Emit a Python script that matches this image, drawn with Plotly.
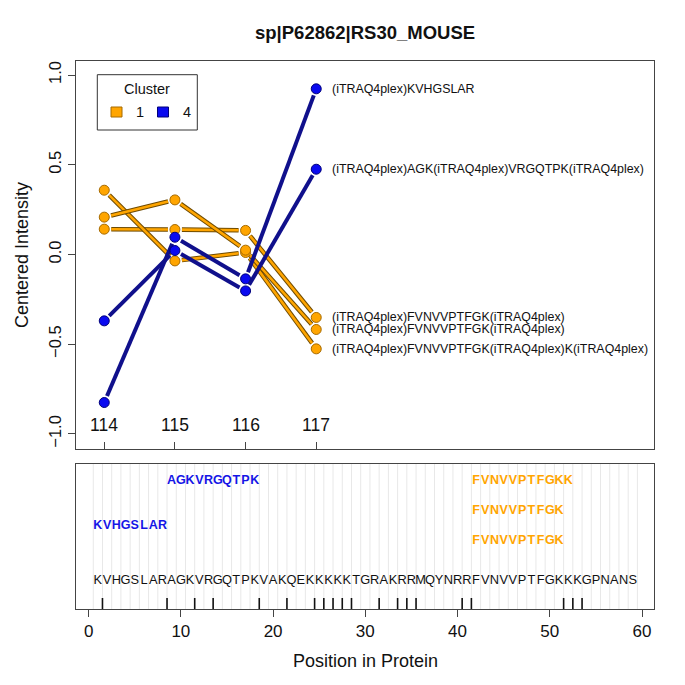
import math
import plotly.graph_objects as go

# ---------------- data ----------------
channels = ["114", "115", "116", "117"]
channel_pos = [1, 2, 3, 4]

peptide_labels = [
    "(iTRAQ4plex)FVNVVPTFGK(iTRAQ4plex)",
    "(iTRAQ4plex)FVNVVPTFGK(iTRAQ4plex)K(iTRAQ4plex)",
    "(iTRAQ4plex)FVNVVPTFGK(iTRAQ4plex)",
    "(iTRAQ4plex)KVHGSLAR",
    "(iTRAQ4plex)AGK(iTRAQ4plex)VRGQTPK(iTRAQ4plex)",
]
peptide_cluster = [1, 1, 1, 4, 4]
intensity_p1 = [0.141, 0.139, 0.134, -0.351]
intensity_p2 = [0.358, -0.036, 0.011, -0.526]
intensity_p3 = [0.208, 0.304, 0.024, -0.418]
intensity_p4 = [-0.825, 0.096, -0.136, 0.923]
intensity_p5 = [-0.370, 0.022, -0.203, 0.475]
intensities = [intensity_p1, intensity_p2, intensity_p3, intensity_p4, intensity_p5]

protein_name = "sp|P62862|RS30_MOUSE"
protein_seq = "KVHGSLARAGKVRGQTPKVAKQEKKKKKTGRAKRRMQYNRRFVNVVPTFGKKKGPNANS"

pep_seqs = ["KVHGSLAR", "AGKVRGQTPK", "FVNVVPTFGKK", "FVNVVPTFGK", "FVNVVPTFGK"]
pep_start = [1, 9, 42, 42, 42]
pep_cluster = [4, 4, 1, 1, 1]
pep_row = [1, 0, 0, 1, 2]

x_ticks_bottom = [0, 10, 20, 30, 40, 50, 60]
y_ticks_top = [-1.0, -0.5, 0.0, 0.5, 1.0]
y_tick_text = ["\u22121.0", "\u22120.5", "0.0", "0.5", "1.0"]

# ---------------- style ----------------
FONT = "Liberation Sans, Arial, Helvetica, sans-serif"
OFF = 8                       # page body margin offset
W = H = 685 - OFF
# page pixel geometry of the plot areas
top_px = (61, 449)
bot_px = (464, 609)
plot_left, plot_right = 76, 654

L = plot_left - OFF
T = top_px[0] - OFF
R = 685 - plot_right
B = 685 - bot_px[1]
PW = W - L - R
PH = H - T - B

def py2paper(py):
    return (bot_px[1] - py) / PH

def px2paper(px):
    return (px - plot_left) / PW

top_dom = [py2paper(top_px[1]), py2paper(top_px[0])]
bot_dom = [py2paper(bot_px[1]), py2paper(bot_px[0])]

x1_range = [0.6, 8.78]
y1_range = [-1.084, 1.078]
x2_range = [-1.37, 61.3]
y2_range = [0, bot_px[1] - bot_px[0]]

cl_fill = {1: "#FFA500", 4: "#0A0AF0"}
cl_edge = {1: "#A66A00", 4: "#00007A"}
cl_line = {1: "#FFA500", 4: "#10108C"}
txt_col = {1: "#FFA500", 4: "#1515E6"}

kx = PW / (x1_range[1] - x1_range[0])
ky = (top_px[1] - top_px[0]) / (y1_range[1] - y1_range[0])
GAP = 7.0

def gapped(xs, ys):
    ox, oy = [], []
    for i in range(len(xs) - 1):
        x1, y1, x2, y2 = xs[i], ys[i], xs[i + 1], ys[i + 1]
        dx, dy = (x2 - x1) * kx, (y2 - y1) * ky
        Lp = math.hypot(dx, dy)
        if Lp <= 2 * GAP:
            continue
        f = GAP / Lp
        ox += [x1 + (x2 - x1) * f, x2 - (x2 - x1) * f, None]
        oy += [y1 + (y2 - y1) * f, y2 - (y2 - y1) * f, None]
    return ox, oy

fig = go.Figure()

# top panel: lines and points
order = sorted(range(len(intensities)), key=lambda i: 0 if peptide_cluster[i] == 1 else 1)
for i in order:
    c = peptide_cluster[i]
    gx, gy = gapped(channel_pos, intensities[i])
    if c == 1:
        fig.add_trace(go.Scatter(x=gx, y=gy, mode="lines", line=dict(color="#6E4A00", width=4.6),
                                 hoverinfo="skip", showlegend=False, xaxis="x", yaxis="y"))
        fig.add_trace(go.Scatter(x=gx, y=gy, mode="lines", line=dict(color=cl_line[c], width=2.6),
                                 hoverinfo="skip", showlegend=False, xaxis="x", yaxis="y"))
    else:
        fig.add_trace(go.Scatter(x=gx, y=gy, mode="lines", line=dict(color=cl_line[c], width=4),
                                 hoverinfo="skip", showlegend=False, xaxis="x", yaxis="y"))
    fig.add_trace(go.Scatter(x=channel_pos, y=intensities[i], mode="markers",
                             marker=dict(size=10, color=cl_fill[c], line=dict(color=cl_edge[c], width=1)),
                             showlegend=False, xaxis="x", yaxis="y", name=peptide_labels[i]))

annotations = []
for i in range(len(intensities)):
    annotations.append(dict(x=channel_pos[-1], y=intensities[i][-1], xref="x", yref="y",
                            text=peptide_labels[i], showarrow=False, xanchor="left", yanchor="middle",
                            xshift=14, font=dict(family=FONT, size=12.4, color="#111")))
for cp, ch in zip(channel_pos, channels):
    annotations.append(dict(x=cp, y=-0.951, xref="x", yref="y", text=ch, showarrow=False,
                            xanchor="center", yanchor="middle", font=dict(family=FONT, size=17.5, color="#111")))

# bottom panel: grid lines at residue boundaries
n = len(protein_seq)
gx, gy = [], []
for k in range(n + 1):
    gx += [k + 0.5, k + 0.5, None]
    gy += [y2_range[0], y2_range[1], None]
fig.add_trace(go.Scatter(x=gx, y=gy, mode="lines", line=dict(color="#E8E8E8", width=1),
                         hoverinfo="skip", showlegend=False, xaxis="x2", yaxis="y2"))

# cleavage site ticks (after K / R)
cx, cy = [], []
for k, aa in enumerate(protein_seq[:-1], start=1):
    if aa in "KR":
        cx += [k + 0.5, k + 0.5, None]
        cy += [0, 11, None]
fig.add_trace(go.Scatter(x=cx, y=cy, mode="lines", line=dict(color="#111", width=1.6),
                         hoverinfo="skip", showlegend=False, xaxis="x2", yaxis="y2"))

# protein sequence letters
fig.add_trace(go.Scatter(x=list(range(1, n + 1)), y=[28] * n, mode="text", text=list(protein_seq),
                         textfont=dict(family=FONT, size=12.8, color="#111"), textposition="middle center",
                         hoverinfo="skip", showlegend=False, xaxis="x2", yaxis="y2"))

# peptide letters
row_gap = {4: 44.7, 1: 29.7}
for s, st, c, r in zip(pep_seqs, pep_start, pep_cluster, pep_row):
    yv = 128 - r * row_gap[c]
    fig.add_trace(go.Scatter(x=list(range(st, st + len(s))), y=[yv] * len(s), mode="text", text=list(s),
                             textfont=dict(family=FONT, size=12.5, color=txt_col[c], weight="bold"),
                             textposition="middle center", hoverinfo="skip", showlegend=False,
                             xaxis="x2", yaxis="y2"))

# legend box
shapes = []
shapes.append(dict(type="rect", xref="paper", yref="paper",
                   x0=px2paper(97.3), x1=px2paper(197.3), y0=py2paper(130), y1=py2paper(74.7),
                   line=dict(color="#333", width=1), fillcolor="white"))
for (x0, x1), c in [((111, 122), 1), ((157.5, 168.5), 4)]:
    shapes.append(dict(type="rect", xref="paper", yref="paper",
                       x0=px2paper(x0), x1=px2paper(x1), y0=py2paper(117), y1=py2paper(107),
                       line=dict(color=cl_edge[c], width=1), fillcolor=cl_fill[c]))
annotations.append(dict(x=px2paper(147.3), y=py2paper(88.5), xref="paper", yref="paper", text="Cluster",
                        showarrow=False, xanchor="center", yanchor="middle",
                        font=dict(family=FONT, size=14.5, color="#111")))
for xx, t in [(139.5, "1"), (187.3, "4")]:
    annotations.append(dict(x=px2paper(xx), y=py2paper(112), xref="paper", yref="paper", text=t,
                            showarrow=False, xanchor="center", yanchor="middle",
                            font=dict(family=FONT, size=14.5, color="#111")))

# title and axis titles
annotations.append(dict(x=px2paper(365), y=py2paper(32), xref="paper", yref="paper",
                        text="<b>" + protein_name + "</b>", showarrow=False, xanchor="center",
                        yanchor="middle", font=dict(family=FONT, size=18.5, color="#111")))
annotations.append(dict(x=px2paper(22), y=py2paper(255), xref="paper", yref="paper",
                        text="Centered Intensity", textangle=-90, showarrow=False, xanchor="center",
                        yanchor="middle", font=dict(family=FONT, size=18, color="#111")))
annotations.append(dict(x=px2paper(365), y=py2paper(661), xref="paper", yref="paper",
                        text="Position in Protein", showarrow=False, xanchor="center",
                        yanchor="middle", font=dict(family=FONT, size=18, color="#111")))

axis_common = dict(showgrid=False, zeroline=False, showline=True, linecolor="#444", linewidth=1,
                   mirror=True, fixedrange=True, automargin=False)

fig.update_layout(
    width=W, height=H,
    margin=dict(l=L, r=R, t=T, b=B, pad=0, autoexpand=False),
    paper_bgcolor="white", plot_bgcolor="white",
    font=dict(family=FONT, color="#111"),
    xaxis=dict(domain=[0, 1], range=x1_range, anchor="y", tickvals=channel_pos, showticklabels=False,
               ticks="inside", ticklen=7, tickcolor="#444", **axis_common),
    yaxis=dict(domain=top_dom, range=y1_range, anchor="x", tickvals=y_ticks_top, ticktext=y_tick_text,
               tickangle=-90, ticks="outside", ticklen=7, tickcolor="#444",
               tickfont=dict(family=FONT, size=16.5, color="#111"), **axis_common),
    xaxis2=dict(domain=[0, 1], range=x2_range, anchor="y2", tickvals=x_ticks_bottom, ticks="outside",
                ticklen=7, tickcolor="#444", tickfont=dict(family=FONT, size=17, color="#111"),
                **axis_common),
    yaxis2=dict(domain=bot_dom, range=y2_range, anchor="x2", showticklabels=False, ticks="", **axis_common),
    shapes=shapes,
    annotations=annotations,
    showlegend=False,
)

fig.write_html("out.html")
